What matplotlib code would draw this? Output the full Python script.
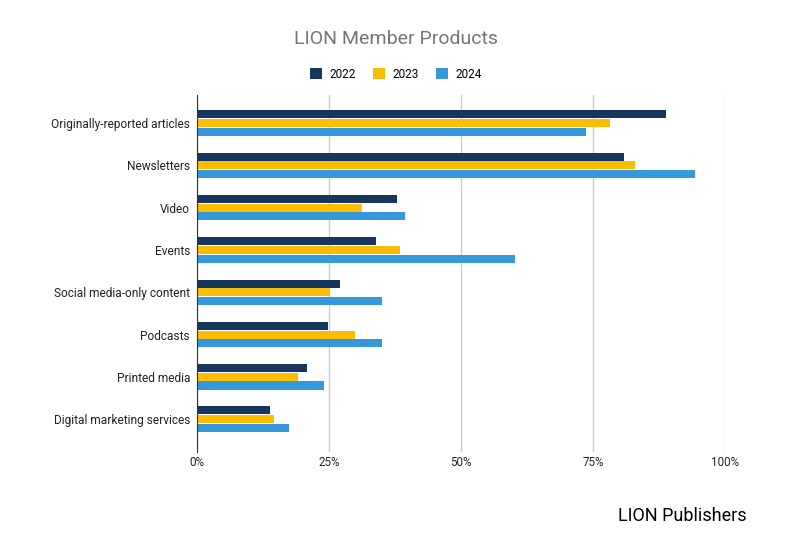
import numpy as np
import matplotlib.pyplot as plt

plt.rcParams['font.family'] = ['Roboto', 'DejaVu Sans']

categories = ["Originally-reported articles", "Newsletters", "Video", "Events",
              "Social media-only content", "Podcasts", "Printed media",
              "Digital marketing services"]
years = ["2022", "2023", "2024"]
v2022 = [88.9, 80.9, 37.9, 34.0, 27.0, 24.9, 20.9, 13.9]
v2023 = [78.2, 83.0, 31.3, 38.5, 25.2, 30.0, 19.2, 14.5]
v2024 = [73.6, 94.3, 39.4, 60.3, 35.1, 35.1, 24.1, 17.5]
colors = ["#17365d", "#fbbc04", "#3498db"]

fig = plt.figure(figsize=(7.92, 5.37), dpi=100)
ax = fig.add_axes([0.2487, 0.158, 0.6667, 0.665])

y = np.arange(len(categories))
h = 0.19
for k, (vals, c, lab) in enumerate(zip([v2022, v2023, v2024], colors, years)):
    ax.barh(y + (k - 1) * 0.205, vals, height=h, color=c, label=lab, zorder=3)

ax.set_xlim(0, 100)
ax.set_ylim(7.78, -0.66)
ax.set_yticks(y)
ax.set_yticklabels(categories, fontsize=8.6, color="#222222")
ax.set_xticks([0, 25, 50, 75, 100])
ax.set_xticklabels(["0%", "25%", "50%", "75%", "100%"], fontsize=8.4, color="#222222")
ax.tick_params(axis='y', length=0, pad=5)
ax.tick_params(axis='x', length=0, pad=3)
ax.grid(axis='x', color="#cccccc", linewidth=1, zorder=0)
for s in ["top", "right", "bottom"]:
    ax.spines[s].set_visible(False)
ax.spines["left"].set_color("#333333")
ax.spines["left"].set_zorder(4)

fig.text(0.5, 0.928, "LION Member Products", ha="center", va="center",
         fontsize=14, color="#757575")
fig.legend(loc="center", bbox_to_anchor=(0.5, 0.862), ncol=3, frameon=False,
           fontsize=8.5, handlelength=1.0, handleheight=1.0, columnspacing=1.4,
           handletextpad=0.7)
fig.text(0.943, 0.039, "LION Publishers", ha="right", va="center",
         fontsize=13, color="#000000")

fig.savefig("out.png", dpi=100)
